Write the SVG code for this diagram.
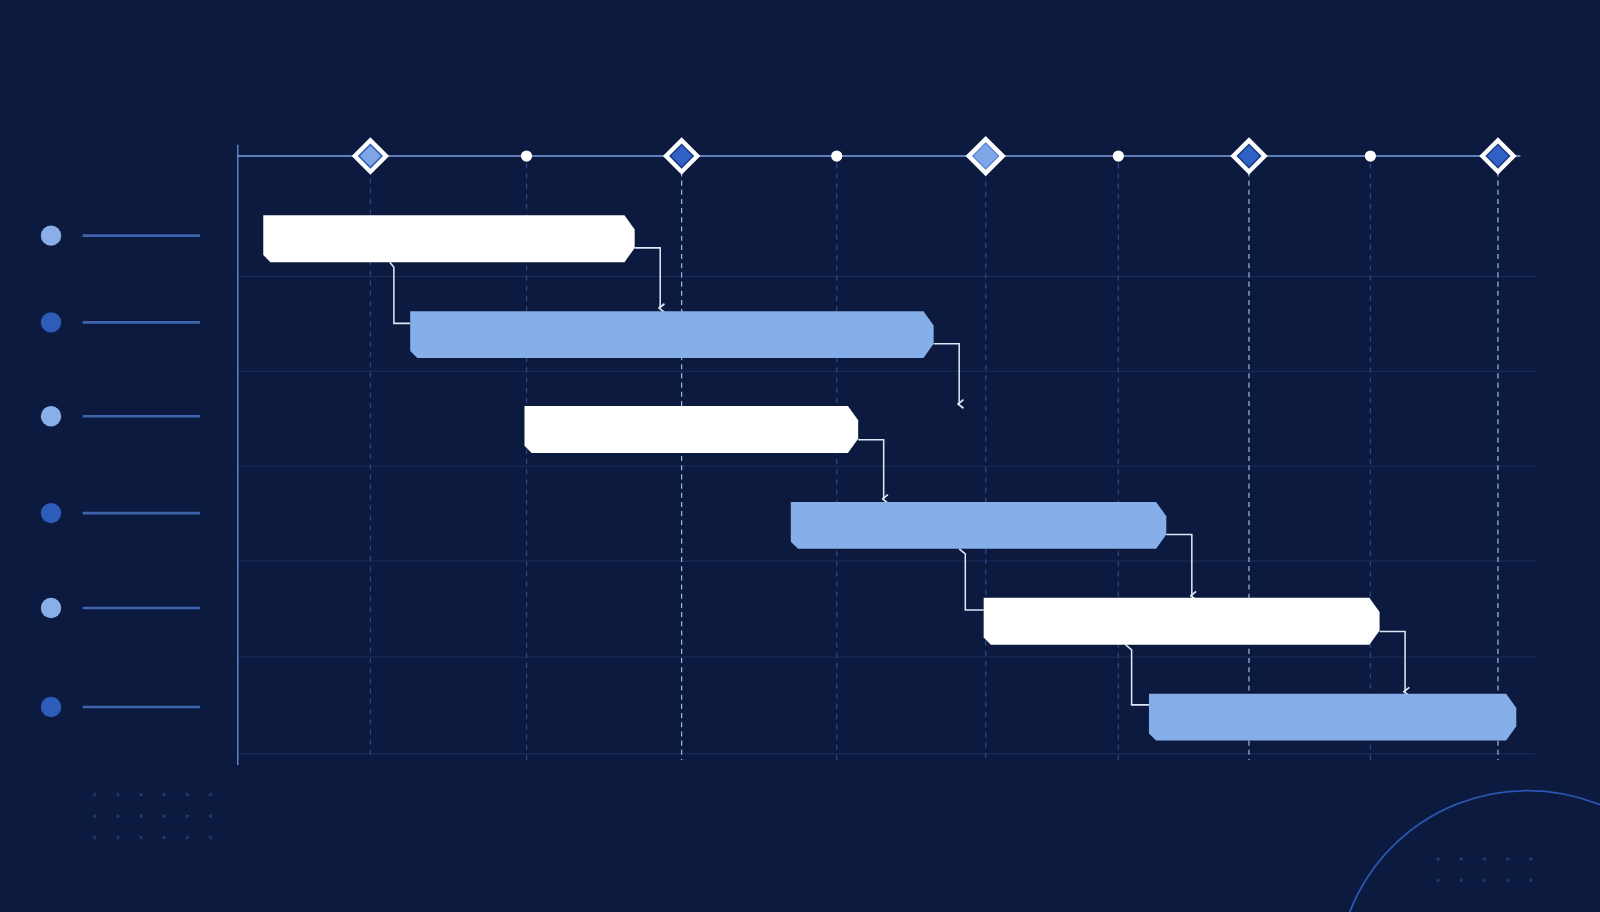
<svg xmlns="http://www.w3.org/2000/svg" width="1600" height="912" viewBox="0 0 1600 912">
<defs>
<style>
.grid{stroke:#1a2f5e;stroke-width:1}
.vd{stroke:#2a4a8a;stroke-width:1.2;stroke-dasharray:5 5}
.vm{stroke:#9fb6e0;stroke-width:1.2;stroke-dasharray:5 4}
.conn{fill:none;stroke:#dfe8f8;stroke-width:1.5}
.w{fill:#ffffff}
.b{fill:#86aee9}
.dm{fill:#ffffff}
.lg{stroke:#3e64ad;stroke-width:2.5}
.dot{fill:#2a4a8a}
</style>
<marker id="ar" viewBox="0 0 10 10" refX="5" refY="8" markerWidth="7" markerHeight="7" orient="auto-start-reverse"><path d="M1,4 L5,9 L9,4" fill="none" stroke="#dfe8f8" stroke-width="1.6"/></marker>
<pattern id="dp" width="22.7" height="21" patternUnits="userSpaceOnUse"><circle cx="2" cy="2" r="1.5" fill="#23407a"/></pattern>
</defs>
<rect width="1600" height="912" fill="#0b1a3e"/>
<g transform="scale(1.0204 1.0201)">
<g id="background">
<rect x="82" y="761" width="142" height="68" fill="url(#dp)"/>
<rect x="1392" y="826" width="118" height="48" fill="url(#dp)"/>
<circle cx="1497" cy="962" r="187" fill="none" stroke="#2a55b0" stroke-width="1.8"/>
</g>
<g id="grid">
<line class="grid" x1="233" y1="271" x2="1505" y2="271"/>
<line class="grid" x1="233" y1="364" x2="1505" y2="364"/>
<line class="grid" x1="233" y1="457" x2="1505" y2="457"/>
<line class="grid" x1="233" y1="550" x2="1505" y2="550"/>
<line class="grid" x1="233" y1="644" x2="1505" y2="644"/>
<line class="grid" x1="233" y1="739" x2="1505" y2="739"/>
<line class="vd" x1="363" y1="165" x2="363" y2="745"/>
<line class="vd" x1="516" y1="160" x2="516" y2="745"/>
<line class="vd" x1="820" y1="160" x2="820" y2="745"/>
<line class="vd" x1="1096" y1="160" x2="1096" y2="745"/>
<line class="vd" x1="1343" y1="160" x2="1343" y2="745"/>
<line class="vm" x1="668" y1="168" x2="668" y2="745"/>
<line class="vd" x1="966" y1="168" x2="966" y2="745"/>
<line class="vm" x1="1224" y1="168" x2="1224" y2="745"/>
<line class="vm" x1="1468" y1="168" x2="1468" y2="745"/>
<line x1="233" y1="142" x2="233" y2="750" stroke="#5a7fc4" stroke-width="1.5"/>
<line x1="233" y1="153" x2="1490" y2="153" stroke="#7d9fe0" stroke-width="1.5"/>
</g>
<g id="milestones">
<g transform="translate(363 153) rotate(45)"><rect x="-13" y="-13" width="26" height="26" class="dm"/><rect x="-8" y="-8" width="16" height="16" fill="#7ea6e6" stroke="#2d5bb5" stroke-width="1.5"/></g>
<circle cx="516" cy="153" r="5.5" fill="#fff"/>
<g transform="translate(668 153) rotate(45)"><rect x="-13" y="-13" width="26" height="26" class="dm"/><rect x="-8" y="-8" width="16" height="16" fill="#2f62c4" stroke="#1b3c85" stroke-width="1.5"/></g>
<circle cx="820" cy="153" r="5.5" fill="#fff"/>
<g transform="translate(966 153) rotate(45)"><rect x="-14" y="-14" width="28" height="28" class="dm"/><rect x="-9" y="-9" width="18" height="18" fill="#7ea6e6" stroke="#4a78cc" stroke-width="1"/></g>
<circle cx="1096" cy="153" r="5.5" fill="#fff"/>
<g transform="translate(1224 153) rotate(45)"><rect x="-13" y="-13" width="26" height="26" class="dm"/><rect x="-8" y="-8" width="16" height="16" fill="#2f62c4" stroke="#1b3c85" stroke-width="1.5"/></g>
<circle cx="1343" cy="153" r="5.5" fill="#fff"/>
<g transform="translate(1468 153) rotate(45)"><rect x="-13" y="-13" width="26" height="26" class="dm"/><rect x="-8" y="-8" width="16" height="16" fill="#2f62c4" stroke="#1b3c85" stroke-width="1.5"/></g>
</g>
<g id="legend">
<circle cx="50" cy="231" r="10" fill="#8aaee8"/><line class="lg" x1="81" y1="231" x2="196" y2="231"/>
<circle cx="50" cy="316" r="10" fill="#2d5db8"/><line class="lg" x1="81" y1="316" x2="196" y2="316"/>
<circle cx="50" cy="408" r="10" fill="#8aaee8"/><line class="lg" x1="81" y1="408" x2="196" y2="408"/>
<circle cx="50" cy="503" r="10" fill="#2d5db8"/><line class="lg" x1="81" y1="503" x2="196" y2="503"/>
<circle cx="50" cy="596" r="10" fill="#8aaee8"/><line class="lg" x1="81" y1="596" x2="196" y2="596"/>
<circle cx="50" cy="693" r="10" fill="#2d5db8"/><line class="lg" x1="81" y1="693" x2="196" y2="693"/>
</g>
<g id="connectors">
<path class="conn" d="M622,243 H647 V302" marker-end="url(#ar)"/>
<path class="conn" d="M382,257 L386,262 V317 H402"/>
<path class="conn" d="M915,337 H940 V396" marker-end="url(#ar)"/>
<path class="conn" d="M841,431 H866 V489" marker-end="url(#ar)"/>
<path class="conn" d="M1143,524 H1168 V584" marker-end="url(#ar)"/>
<path class="conn" d="M940,538 L946,543 V598 H964"/>
<path class="conn" d="M1352,619 H1377 V678" marker-end="url(#ar)"/>
<path class="conn" d="M1103,632 L1109,637 V691 H1126"/>
</g>
<g id="task1"><path class="w" d="M258,211 H612 L622,225 V243 L612,257 H265 L258,250 Z"/></g>
<g id="task2"><path class="b" d="M402,305 H905 L915,319 V337 L905,351 H409 L402,344 Z"/></g>
<g id="task3"><path class="w" d="M514,398 H831 L841,412 V430 L831,444 H521 L514,437 Z"/></g>
<g id="task4"><path class="b" d="M775,492 H1133 L1143,506 V524 L1133,538 H782 L775,531 Z"/></g>
<g id="task5"><path class="w" d="M964,586 H1342 L1352,600 V618 L1342,632 H971 L964,625 Z"/></g>
<g id="task6"><path class="b" d="M1126,680 H1476 L1486,694 V712 L1476,726 H1133 L1126,719 Z"/></g>
</g>
</svg>
